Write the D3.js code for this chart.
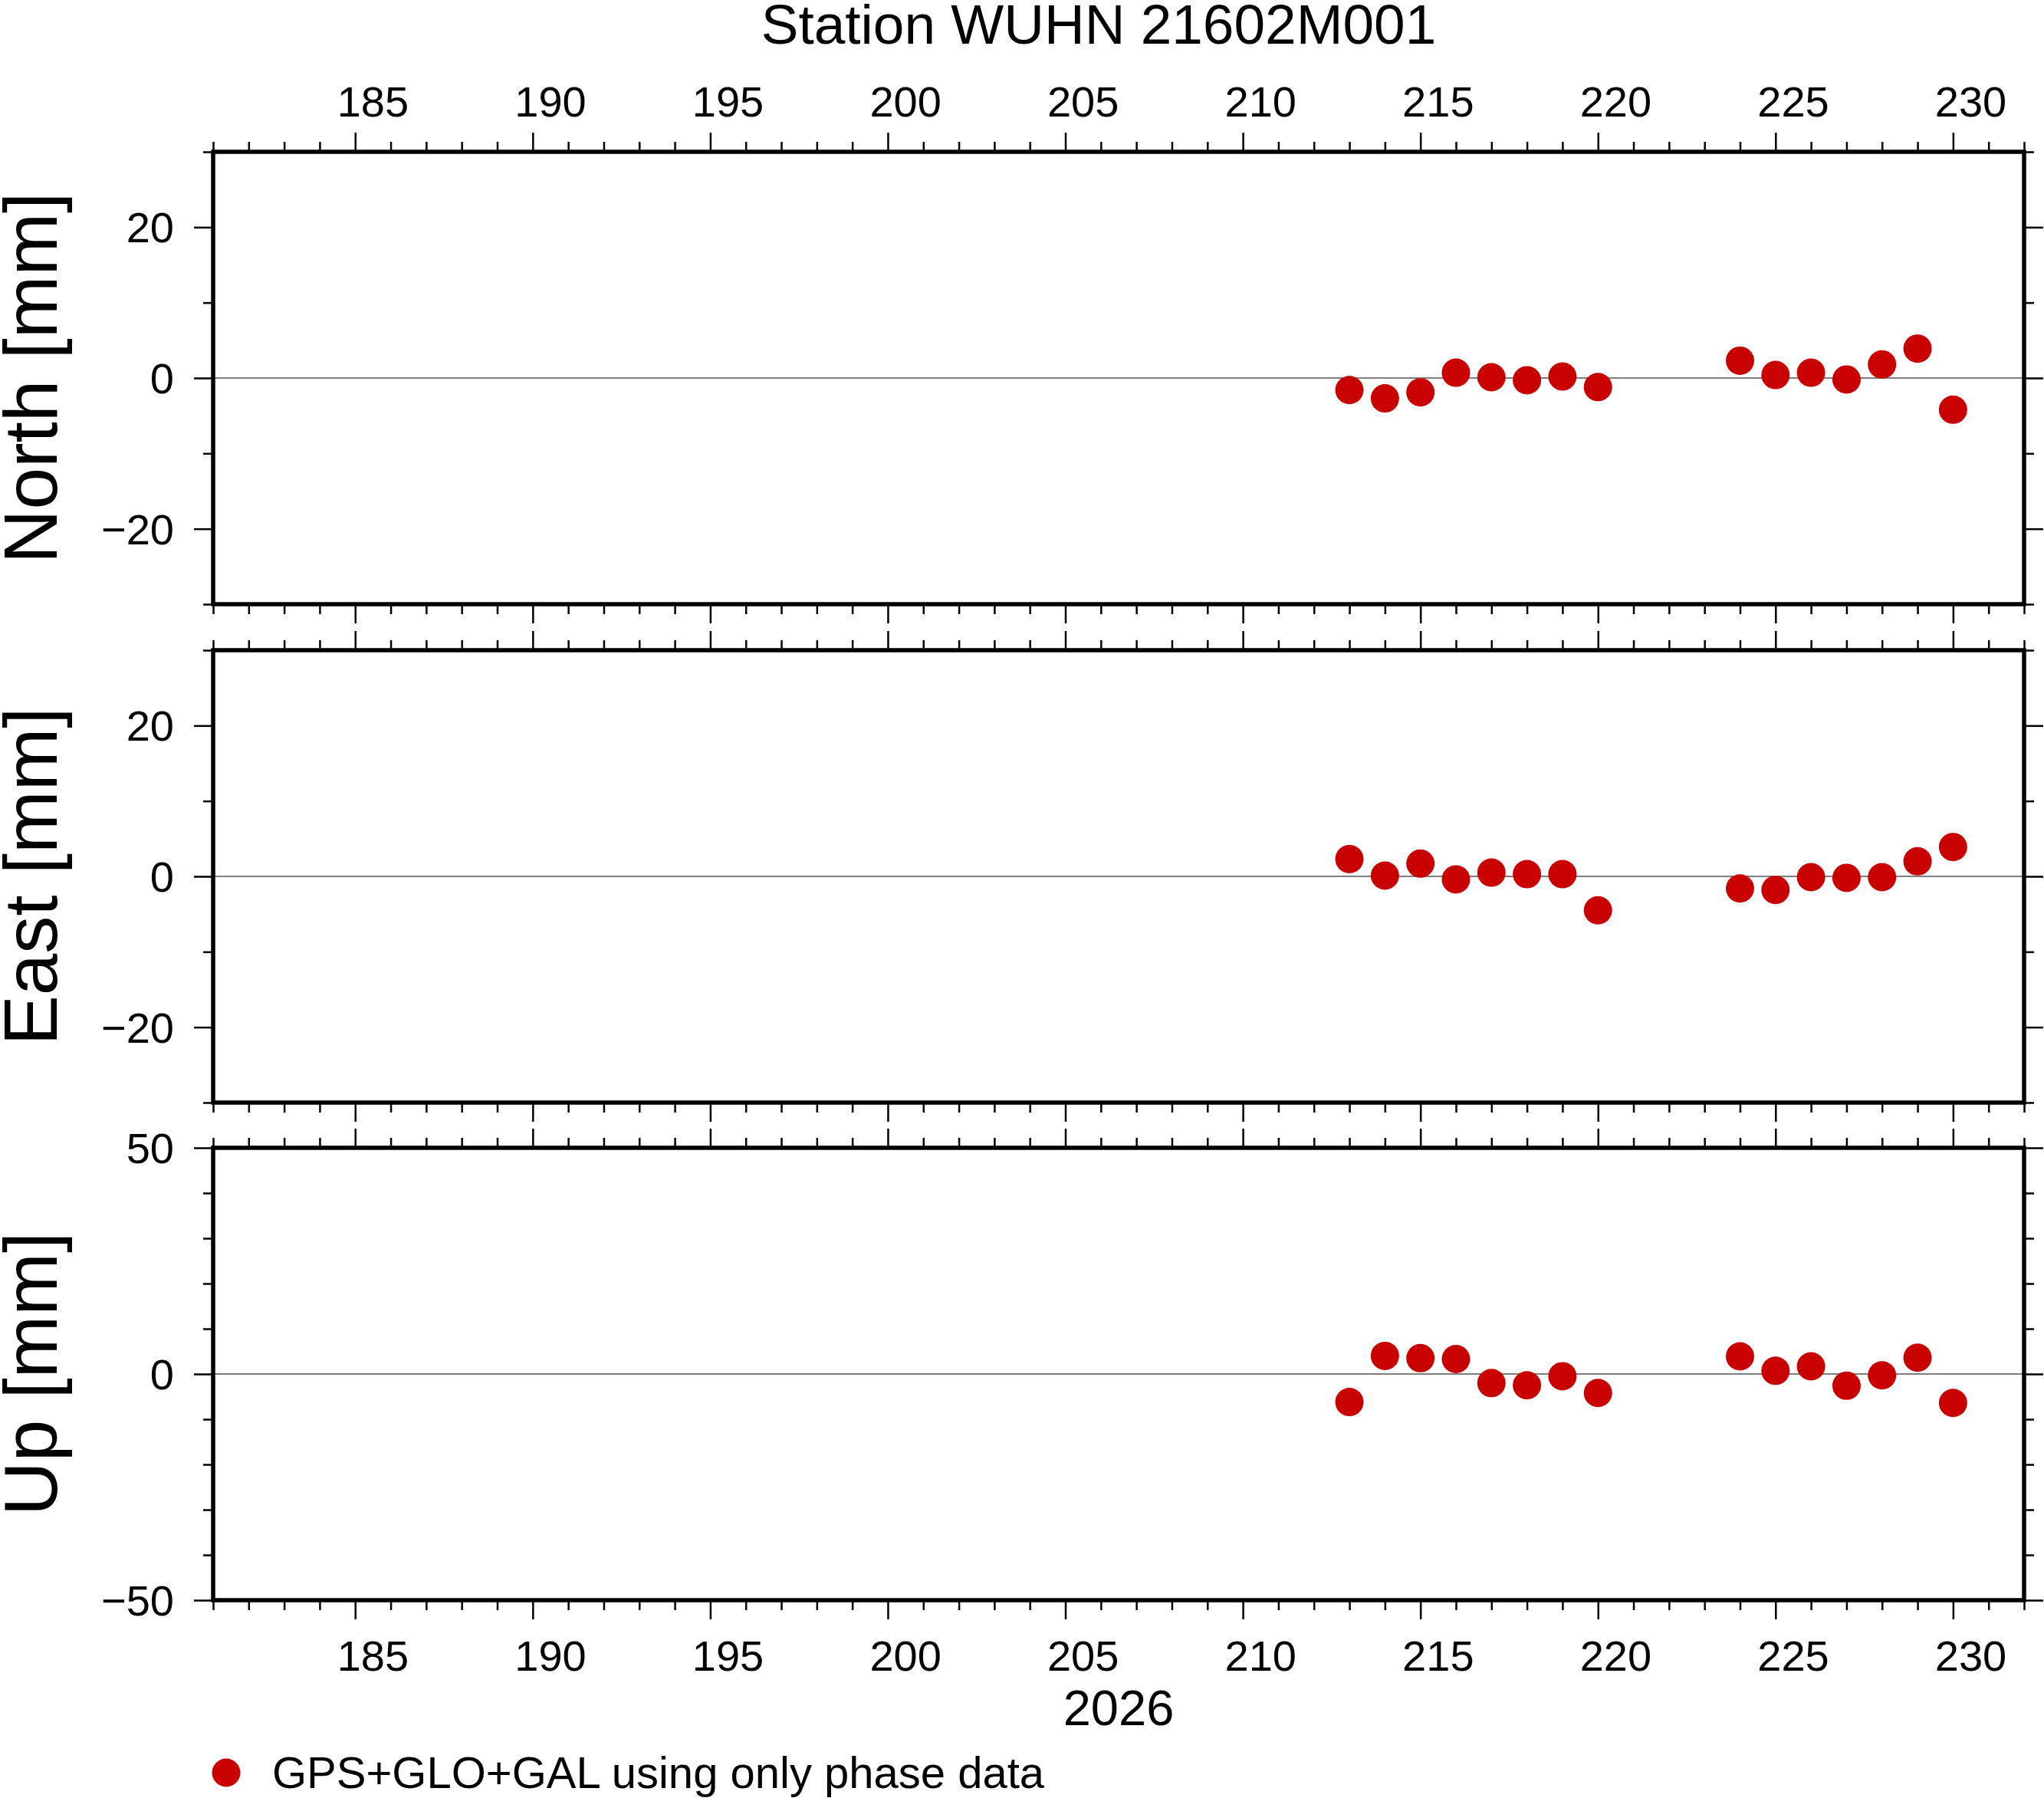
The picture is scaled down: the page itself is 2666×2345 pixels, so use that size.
<!DOCTYPE html>
<html>
<head>
<meta charset="utf-8">
<script src="https://cdn.jsdelivr.net/npm/d3@7"></script>
<style>
  html, body { margin: 0; padding: 0; background: #fff; }
  svg { display: block; }
  text { font-family: "Liberation Sans", Arial, Helvetica, sans-serif; fill: #000; }
</style>
</head>
<body>
<script>
// ---- data ----
const title = "Station WUHN 21602M001";
const yearLabel = "2026";
const legendLabel = "GPS+GLO+GAL using only phase data";
const days = [213, 214, 215, 216, 217, 218, 219, 220, 224, 225, 226, 227, 228, 229, 230];
const north = [-1.6, -2.7, -1.9, 0.7, 0.1, -0.3, 0.2, -1.2, 2.3, 0.4, 0.7, -0.2, 1.8, 3.9, -4.2];
const east = [2.3, 0.1, 1.7, -0.4, 0.5, 0.3, 0.3, -4.5, -1.6, -1.8, -0.1, -0.2, -0.1, 2.0, 3.9];
const up = [-6.2, 4.0, 3.5, 3.3, -2.0, -2.5, -0.5, -4.2, 3.9, 0.7, 1.7, -2.6, -0.3, 3.6, -6.4];
const xDomain = [181, 232];
const xMajorTicks = [185, 190, 195, 200, 205, 210, 215, 220, 225, 230];
const panelNames = ["North [mm]", "East [mm]", "Up [mm]"];
const panelDomains = [[-30, 30], [-30, 30], [-50, 50]];
const panelMajor = [[-20, 0, 20], [-20, 0, 20], [-50, 0, 50]];
const panelMinor = [[-30, -10, 10, 30], [-30, -10, 10, 30], [-40, -30, -20, -10, 10, 20, 30, 40]];
const panelValues = [north, east, up];

// ---- layout ----
const W = 2666, H = 2345;
const left = 278, right = 2640;
const panelTops = [198, 848, 1497];
const panelH = 590;
const dotColor = "#c80000";
const fmt = v => (v < 0 ? "\u2212" + Math.abs(v) : String(v));

const svg = d3.select("body").append("svg").attr("width", W).attr("height", H);
svg.append("rect").attr("width", W).attr("height", H).attr("fill", "#fff");

const x = d3.scaleLinear().domain(xDomain).range([left, right]);
const xMinor = d3.range(xDomain[0], xDomain[1] + 1).filter(d => !xMajorTicks.includes(d));

function styleAxis(g) {
  g.select(".domain").remove();
  g.selectAll(".tick line").attr("stroke", "#000").attr("stroke-width", 2.5);
  g.selectAll(".tick text").remove();
}

panelNames.forEach((name, i) => {
  const top = panelTops[i], bottom = top + panelH;
  const y = d3.scaleLinear().domain(panelDomains[i]).range([bottom, top]);
  const g = svg.append("g");

  // zero line
  g.append("line").attr("x1", left).attr("x2", right).attr("y1", y(0)).attr("y2", y(0))
    .attr("stroke", "#000").attr("stroke-width", 1.2);

  // x ticks top & bottom
  [[d3.axisTop, top], [d3.axisBottom, bottom]].forEach(([ax, ty]) => {
    g.append("g").attr("transform", `translate(0,${ty})`)
      .call(ax(x).tickValues(xMajorTicks).tickSize(25).tickFormat("")).call(styleAxis);
    g.append("g").attr("transform", `translate(0,${ty})`)
      .call(ax(x).tickValues(xMinor).tickSize(13).tickFormat("")).call(styleAxis);
  });
  // y ticks left & right
  [[d3.axisLeft, left], [d3.axisRight, right]].forEach(([ax, tx]) => {
    g.append("g").attr("transform", `translate(${tx},0)`)
      .call(ax(y).tickValues(panelMajor[i]).tickSize(25).tickFormat("")).call(styleAxis);
    g.append("g").attr("transform", `translate(${tx},0)`)
      .call(ax(y).tickValues(panelMinor[i]).tickSize(13).tickFormat("")).call(styleAxis);
  });

  // y tick labels
  g.selectAll("text.ylab").data(panelMajor[i]).join("text")
    .attr("class", "ylab")
    .attr("x", 227).attr("y", d => y(d)).attr("dy", "0.36em")
    .attr("text-anchor", "end").attr("font-size", 56)
    .text(fmt);

  // frame
  g.append("rect").attr("x", left).attr("y", top).attr("width", right - left).attr("height", panelH)
    .attr("fill", "none").attr("stroke", "#000").attr("stroke-width", 5.5);

  // panel title (rotated)
  g.append("text")
    .attr("transform", `translate(74,${(top + bottom) / 2}) rotate(-90)`)
    .attr("text-anchor", "middle").attr("font-size", 98)
    .text(name);

  // dots
  const vals = panelValues[i];
  g.selectAll("circle").data(days).join("circle")
    .attr("cx", d => x(d)).attr("cy", (d, j) => y(vals[j]))
    .attr("r", 18.5).attr("fill", dotColor);
});

// top x labels
svg.selectAll("text.xtop").data(xMajorTicks).join("text")
  .attr("class", "xtop")
  .attr("x", d => x(d + 0.5)).attr("y", 152)
  .attr("text-anchor", "middle").attr("font-size", 56)
  .text(d => d);
// bottom x labels
svg.selectAll("text.xbot").data(xMajorTicks).join("text")
  .attr("class", "xbot")
  .attr("x", d => x(d + 0.5)).attr("y", 2179)
  .attr("text-anchor", "middle").attr("font-size", 56)
  .text(d => d);

// year label
svg.append("text").attr("x", (left + right) / 2).attr("y", 2250)
  .attr("text-anchor", "middle").attr("font-size", 65).text(yearLabel);

// title
svg.append("text").attr("x", 1433).attr("y", 57)
  .attr("text-anchor", "middle").attr("font-size", 73).text(title);

// legend
svg.append("circle").attr("cx", 295).attr("cy", 2312).attr("r", 18.5).attr("fill", dotColor);
svg.append("text").attr("x", 355).attr("y", 2332).attr("font-size", 58).text(legendLabel);
</script>
</body>
</html>
